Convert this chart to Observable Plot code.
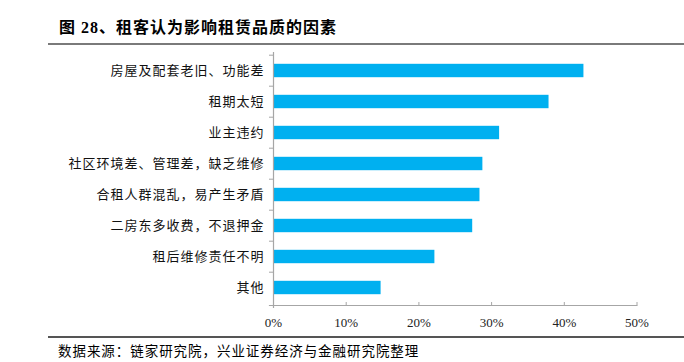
<!DOCTYPE html>
<html>
<head>
<meta charset="utf-8">
<script src="https://cdn.jsdelivr.net/npm/d3@7"></script>
<script src="https://cdn.jsdelivr.net/npm/@observablehq/plot@0.6"></script>
<style>
  html, body { margin: 0; padding: 0; background: #fff; }
  #wrap { position: relative; width: 684px; height: 362px; overflow: hidden; }
  #chart { position: absolute; left: 0; top: 0; }
  #title { position: absolute; left: 59px; top: 14px; font-family: "Liberation Serif", "Noto Sans CJK SC", serif; font-weight: bold; font-size: 16px; color: #000; white-space: nowrap; letter-spacing: 1px; }
  #tline { position: absolute; left: 48px; top: 43px; width: 636px; height: 2px; background: #7a7a7a; }
  #bline { position: absolute; left: 48px; top: 336px; width: 636px; height: 1.5px; background: #555; }
  #caption { position: absolute; left: 58px; top: 340px; font-family: "Noto Sans CJK SC", sans-serif; font-size: 13.5px; color: #000; white-space: nowrap; letter-spacing: 0.95px; }
  #chart svg g[aria-label="y-axis tick label"] text { letter-spacing: 1px; }
</style>
</head>
<body>
<div id="wrap">
  <div id="chart"></div>
  <div id="tline"></div>
  <div id="title">图 28、租客认为影响租赁品质的因素</div>
  <div id="bline"></div>
  <div id="caption">数据来源：链家研究院，兴业证券经济与金融研究院整理</div>
</div>
<script>
const categories = [
  "房屋及配套老旧、功能差",
  "租期太短",
  "业主违约",
  "社区环境差、管理差，缺乏维修",
  "合租人群混乱，易产生矛盾",
  "二房东多收费，不退押金",
  "租后维修责任不明",
  "其他"
];
const values = [42.7, 37.9, 31.1, 28.8, 28.4, 27.4, 22.2, 14.8];
const xTicks = [0, 10, 20, 30, 40, 50];

const data = categories.map((c, i) => ({category: c, value: values[i]}));

const step = (305 - 52) / categories.length;

const chart = Plot.plot({
  width: 684,
  height: 362,
  marginTop: 52,
  marginBottom: 57,
  marginLeft: 273,
  marginRight: 47.5,
  style: {background: "transparent", overflow: "visible"},
  x: {domain: [0, 50], ticks: xTicks, label: null},
  y: {domain: categories, padding: 0, label: null},
  marks: [
    Plot.barX(data, {x: "value", y: "category", fill: "#00B0F0", insetTop: 8.8, insetBottom: 8.8}),
    Plot.frame({anchor: "bottom", stroke: "#a6a6a6", strokeWidth: 1.2, insetLeft: -4}),
    Plot.frame({anchor: "left", stroke: "#a6a6a6", strokeWidth: 1.2, insetBottom: -2}),
    Plot.axisX({ticks: xTicks, tickSize: 3, dy: -3, text: null, stroke: "#a6a6a6"}),
    Plot.axisX({ticks: xTicks, tickSize: 0, tickPadding: 12, tickFormat: d => d + "%", fontSize: 13, fontFamily: "Liberation Serif, serif", fill: "#222"}),
    Plot.axisY({tickSize: 4, dy: -step / 2, text: null, stroke: "#a6a6a6"}),
    Plot.axisY({tickSize: 0, tickPadding: 9, fontSize: 13, fontFamily: "Noto Sans CJK SC, sans-serif", fill: "#111"})
  ]
});
document.getElementById("chart").appendChild(chart);
</script>
</body>
</html>
